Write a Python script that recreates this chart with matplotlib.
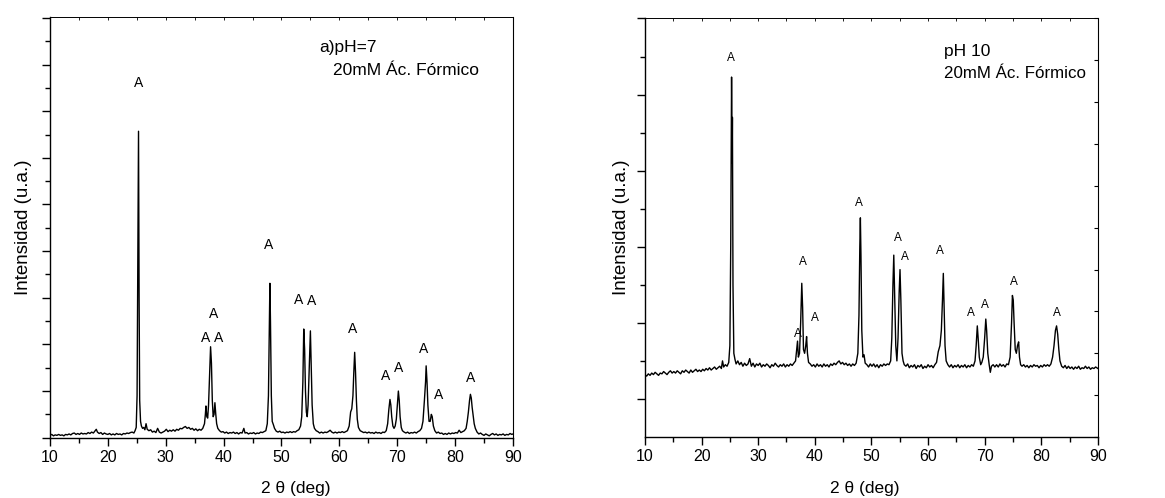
import matplotlib
matplotlib.use('Agg')
import matplotlib.pyplot as plt
from matplotlib.ticker import MultipleLocator, FixedLocator, NullFormatter

plt.rcParams['font.family'] = ['Liberation Sans', 'DejaVu Sans']

# panel a) pH 7 -- trace (2theta, intensity in tick units)
two_theta_a = [
    10.0, 10.3, 10.6, 10.9, 11.2, 11.5, 11.8, 12.1, 12.4, 12.7, 13.0, 13.3, 13.6, 13.9, 14.2, 14.5,
    14.8, 15.1, 15.4, 15.7, 16.0, 16.3, 16.6, 16.9, 17.2, 17.5, 17.8, 18.0, 18.2, 18.5, 18.8, 19.1,
    19.4, 19.7, 20.0, 20.3, 20.6, 20.9, 21.2, 21.5, 21.8, 22.1, 22.4, 22.7, 23.0, 23.3, 23.6, 23.9,
    24.2, 24.5, 24.7, 24.9, 25.05, 25.2, 25.3, 25.4, 25.5, 25.65, 25.8, 26.0, 26.2, 26.4, 26.6, 26.8,
    27.1, 27.4, 27.7, 28.0, 28.3, 28.6, 28.9, 29.2, 29.5, 29.8, 30.1, 30.4, 30.7, 31.0, 31.3, 31.6,
    31.9, 32.2, 32.5, 32.8, 33.1, 33.4, 33.7, 34.0, 34.3, 34.6, 34.9, 35.2, 35.5, 35.8, 36.1, 36.4,
    36.7, 36.85, 36.95, 37.1, 37.25, 37.4, 37.6, 37.75, 37.9, 38.05, 38.2, 38.35, 38.5, 38.65, 38.8, 39.0,
    39.3, 39.6, 39.9, 40.2, 40.5, 40.8, 41.1, 41.4, 41.7, 42.0, 42.3, 42.6, 42.9, 43.2, 43.5, 43.7,
    44.0, 44.3, 44.6, 44.9, 45.2, 45.5, 45.8, 46.1, 46.4, 46.7, 47.0, 47.3, 47.55, 47.75, 47.9, 48.0,
    48.1, 48.25, 48.4, 48.6, 48.8, 49.1, 49.4, 49.7, 50.0, 50.3, 50.6, 50.9, 51.2, 51.5, 51.8, 52.1,
    52.4, 52.7, 53.0, 53.3, 53.5, 53.7, 53.85, 54.0, 54.15, 54.3, 54.45, 54.6, 54.8, 55.0, 55.15, 55.3,
    55.5, 55.7, 56.0, 56.3, 56.6, 56.9, 57.2, 57.5, 57.8, 58.1, 58.4, 58.7, 59.0, 59.3, 59.6, 59.9,
    60.2, 60.5, 60.8, 61.1, 61.4, 61.7, 61.95, 62.15, 62.35, 62.5, 62.65, 62.8, 62.95, 63.1, 63.3, 63.6,
    63.9, 64.2, 64.5, 64.8, 65.1, 65.4, 65.7, 66.0, 66.3, 66.6, 66.9, 67.2, 67.5, 67.8, 68.1, 68.35,
    68.55, 68.75, 68.9, 69.05, 69.25, 69.45, 69.65, 69.85, 70.05, 70.2, 70.35, 70.5, 70.7, 70.9, 71.2, 71.5,
    71.8, 72.1, 72.4, 72.7, 73.0, 73.3, 73.6, 73.9, 74.2, 74.45, 74.7, 74.9, 75.0, 75.15, 75.3, 75.5,
    75.7, 75.9, 76.05, 76.25, 76.5, 76.8, 77.1, 77.4, 77.7, 78.0, 78.3, 78.6, 78.9, 79.2, 79.5, 79.8,
    80.1, 80.4, 80.7, 81.0, 81.3, 81.6, 81.9, 82.1, 82.3, 82.5, 82.65, 82.8, 82.95, 83.1, 83.3, 83.5,
    83.8, 84.1, 84.4, 84.7, 85.0, 85.3, 85.6, 85.9, 86.2, 86.5, 86.8, 87.1, 87.4, 87.7, 88.0, 88.3,
    88.6, 88.9, 89.2, 89.5, 89.8, 90.0,
]
intens_a = [
    0.05, 0.07, 0.04, 0.06, 0.05, 0.07, 0.05, 0.06, 0.04, 0.07, 0.06, 0.08, 0.06, 0.09, 0.10, 0.07,
    0.09, 0.07, 0.10, 0.08, 0.09, 0.08, 0.11, 0.09, 0.12, 0.10, 0.15, 0.18, 0.12, 0.09, 0.11, 0.07,
    0.10, 0.08, 0.07, 0.09, 0.06, 0.08, 0.06, 0.09, 0.07, 0.08, 0.06, 0.09, 0.08, 0.10, 0.09, 0.11,
    0.12, 0.10, 0.15, 0.22, 0.90, 4.50, 6.57, 3.00, 0.80, 0.35, 0.25, 0.20, 0.22, 0.17, 0.30, 0.18,
    0.15, 0.17, 0.12, 0.14, 0.11, 0.20, 0.12, 0.10, 0.12, 0.14, 0.18, 0.13, 0.16, 0.14, 0.17, 0.14,
    0.18, 0.16, 0.20, 0.19, 0.22, 0.24, 0.20, 0.22, 0.18, 0.20, 0.16, 0.19, 0.15, 0.18, 0.16, 0.20,
    0.30, 0.50, 0.68, 0.45, 0.42, 0.70, 1.40, 1.95, 1.60, 0.80, 0.45, 0.50, 0.75, 0.50, 0.30, 0.20,
    0.15, 0.12, 0.13, 0.10, 0.12, 0.09, 0.11, 0.10, 0.12, 0.09, 0.11, 0.08, 0.11, 0.10, 0.20, 0.10,
    0.11, 0.08, 0.10, 0.09, 0.11, 0.08, 0.10, 0.09, 0.12, 0.11, 0.13, 0.15, 0.30, 0.90, 2.40, 3.31,
    2.50, 0.90, 0.35, 0.28, 0.20, 0.14, 0.12, 0.14, 0.11, 0.12, 0.10, 0.12, 0.11, 0.13, 0.11, 0.13,
    0.12, 0.15, 0.17, 0.25, 0.45, 1.20, 2.33, 1.90, 1.00, 0.55, 0.45, 0.70, 1.50, 2.29, 1.50, 0.70,
    0.30, 0.20, 0.15, 0.13, 0.10, 0.12, 0.10, 0.12, 0.11, 0.13, 0.16, 0.12, 0.10, 0.12, 0.10, 0.12,
    0.11, 0.13, 0.11, 0.13, 0.15, 0.25, 0.55, 0.62, 0.90, 1.40, 1.83, 1.40, 0.80, 0.40, 0.22, 0.15,
    0.13, 0.11, 0.12, 0.10, 0.12, 0.10, 0.11, 0.09, 0.12, 0.10, 0.11, 0.09, 0.12, 0.11, 0.15, 0.30,
    0.60, 0.82, 0.70, 0.45, 0.25, 0.20, 0.25, 0.40, 0.75, 1.00, 0.80, 0.45, 0.22, 0.15, 0.12, 0.10,
    0.12, 0.09, 0.11, 0.10, 0.12, 0.10, 0.13, 0.15, 0.20, 0.35, 0.80, 1.20, 1.54, 1.20, 0.70, 0.35,
    0.35, 0.50, 0.45, 0.25, 0.15, 0.10, 0.12, 0.09, 0.10, 0.07, 0.09, 0.07, 0.10, 0.08, 0.10, 0.09,
    0.11, 0.10, 0.16, 0.11, 0.13, 0.15, 0.20, 0.35, 0.55, 0.80, 0.93, 0.85, 0.65, 0.50, 0.30, 0.20,
    0.12, 0.08, 0.10, 0.07, 0.05, 0.08, 0.06, 0.04, 0.07, 0.09, 0.06, 0.08, 0.05, 0.07, 0.06, 0.08,
    0.05, 0.07, 0.06, 0.09, 0.07, 0.08,
]
# anatase "A" labels for panel a)
label_x_a = [25.31, 36.94, 38.2, 39.06, 47.76, 52.88, 55.18, 62.37, 67.96, 70.32, 74.58, 77.22, 82.69]
label_y_a = [7.61, 2.13, 2.65, 2.13, 4.14, 2.95, 2.93, 2.32, 1.32, 1.49, 1.91, 0.91, 1.27]

# panel b) pH 10
two_theta_b = [
    10.0, 10.3, 10.6, 10.9, 11.2, 11.5, 11.8, 12.1, 12.4, 12.7, 13.0, 13.3, 13.6, 13.9, 14.2, 14.5,
    14.8, 15.1, 15.4, 15.7, 16.0, 16.3, 16.6, 16.9, 17.2, 17.5, 17.8, 18.1, 18.4, 18.7, 19.0, 19.3,
    19.6, 19.9, 20.2, 20.5, 20.8, 21.1, 21.4, 21.7, 22.0, 22.3, 22.6, 22.9, 23.2, 23.5, 23.7, 23.9,
    24.2, 24.5, 24.8, 25.0, 25.15, 25.3, 25.4, 25.45, 25.55, 25.7, 25.9, 26.1, 26.4, 26.7, 27.0, 27.3,
    27.6, 27.9, 28.2, 28.5, 28.8, 29.1, 29.4, 29.7, 30.0, 30.3, 30.6, 30.9, 31.2, 31.5, 31.8, 32.1,
    32.4, 32.7, 33.0, 33.3, 33.6, 33.9, 34.2, 34.5, 34.8, 35.1, 35.4, 35.7, 36.0, 36.3, 36.6, 36.8,
    36.95, 37.1, 37.3, 37.5, 37.7, 37.85, 38.0, 38.2, 38.4, 38.55, 38.7, 38.9, 39.2, 39.5, 39.8, 40.1,
    40.4, 40.7, 41.0, 41.3, 41.6, 41.9, 42.2, 42.5, 42.8, 43.1, 43.4, 43.7, 44.0, 44.3, 44.6, 44.9,
    45.2, 45.5, 45.8, 46.1, 46.4, 46.7, 47.0, 47.3, 47.6, 47.8, 47.95, 48.05, 48.15, 48.3, 48.5, 48.7,
    48.9, 49.2, 49.5, 49.8, 50.1, 50.4, 50.7, 51.0, 51.3, 51.6, 51.9, 52.2, 52.5, 52.8, 53.1, 53.4,
    53.6, 53.8, 53.95, 54.1, 54.3, 54.5, 54.7, 54.9, 55.05, 55.2, 55.4, 55.6, 55.8, 56.1, 56.4, 56.7,
    57.0, 57.3, 57.6, 57.9, 58.2, 58.5, 58.8, 59.1, 59.4, 59.7, 60.0, 60.3, 60.6, 60.9, 61.2, 61.5,
    61.8, 62.1, 62.35, 62.55, 62.7, 62.85, 63.0, 63.2, 63.5, 63.8, 64.1, 64.4, 64.7, 65.0, 65.3, 65.6,
    65.9, 66.2, 66.5, 66.8, 67.1, 67.4, 67.7, 68.0, 68.3, 68.5, 68.7, 68.85, 69.05, 69.3, 69.5, 69.75,
    70.0, 70.2, 70.35, 70.55, 70.8, 71.0, 71.2, 71.5, 71.8, 72.1, 72.4, 72.7, 73.0, 73.3, 73.6, 73.9,
    74.2, 74.5, 74.75, 74.9, 75.05, 75.2, 75.4, 75.6, 75.8, 76.0, 76.15, 76.35, 76.6, 76.9, 77.2, 77.5,
    77.8, 78.1, 78.4, 78.7, 79.0, 79.3, 79.6, 79.9, 80.2, 80.5, 80.8, 81.1, 81.4, 81.7, 82.0, 82.25,
    82.5, 82.7, 82.9, 83.1, 83.3, 83.6, 83.9, 84.2, 84.5, 84.8, 85.1, 85.4, 85.7, 86.0, 86.3, 86.6,
    86.9, 87.2, 87.5, 87.8, 88.1, 88.4, 88.7, 89.0, 89.3, 89.6, 90.0,
]
intens_b = [
    0.82, 0.80, 0.83, 0.81, 0.84, 0.82, 0.85, 0.83, 0.81, 0.84, 0.83, 0.86, 0.84, 0.82, 0.85, 0.87,
    0.84, 0.86, 0.84, 0.87, 0.85, 0.83, 0.87, 0.85, 0.88, 0.86, 0.84, 0.88, 0.85, 0.87, 0.89, 0.86,
    0.88, 0.86, 0.89, 0.87, 0.90, 0.88, 0.91, 0.88, 0.90, 0.92, 0.89, 0.91, 0.93, 0.90, 1.00, 0.92,
    0.95, 0.93, 0.98, 1.20, 2.50, 4.73, 3.60, 4.20, 2.00, 1.10, 1.02, 0.96, 1.00, 0.95, 0.98, 0.93,
    0.97, 0.94, 0.96, 1.03, 0.93, 0.97, 0.92, 0.96, 0.94, 0.97, 0.92, 0.95, 0.93, 0.96, 0.94, 0.91,
    0.95, 0.93, 0.97, 0.94, 0.92, 0.95, 0.93, 0.96, 0.92, 0.95, 0.93, 0.96, 0.94, 0.97, 1.00, 1.15,
    1.26, 1.05, 1.10, 1.50, 2.02, 1.70, 1.15, 1.10, 1.20, 1.32, 1.10, 0.98, 0.96, 0.93, 0.95, 0.92,
    0.96, 0.93, 0.95, 0.92, 0.96, 0.93, 0.95, 0.92, 0.96, 0.94, 0.97, 0.95, 0.98, 1.00, 0.96, 0.98,
    0.95, 0.97, 0.94, 0.96, 0.93, 0.96, 0.94, 0.97, 1.10, 1.60, 2.50, 2.88, 2.40, 1.40, 1.05, 1.08,
    0.97, 0.95, 0.92, 0.96, 0.93, 0.96, 0.92, 0.95, 0.91, 0.95, 0.93, 0.96, 0.94, 0.96, 0.95, 1.00,
    1.30, 2.00, 2.39, 1.90, 1.20, 1.00, 1.30, 1.90, 2.20, 1.80, 1.10, 1.00, 0.95, 0.93, 0.96, 0.91,
    0.94, 0.92, 0.95, 0.90, 0.94, 0.92, 0.95, 0.90, 0.93, 0.91, 0.95, 0.92, 0.94, 0.91, 0.95, 0.98,
    1.12, 1.20, 1.40, 1.80, 2.15, 1.70, 1.20, 1.00, 0.95, 0.92, 0.95, 0.91, 0.94, 0.92, 0.95, 0.91,
    0.94, 0.92, 0.95, 0.91, 0.94, 0.92, 0.95, 0.93, 1.00, 1.20, 1.46, 1.30, 1.05, 0.95, 0.98, 1.05,
    1.30, 1.55, 1.40, 1.10, 0.95, 0.85, 0.93, 0.95, 0.92, 0.95, 0.92, 0.96, 0.93, 0.95, 0.92, 0.96,
    0.95, 1.05, 1.50, 1.86, 1.80, 1.50, 1.15, 1.10, 1.20, 1.25, 1.05, 0.95, 0.93, 0.95, 0.92, 0.94,
    0.91, 0.94, 0.92, 0.95, 0.93, 0.94, 0.91, 0.94, 0.92, 0.95, 0.93, 0.95, 0.93, 0.96, 1.05, 1.20,
    1.40, 1.46, 1.35, 1.15, 1.00, 0.93, 0.91, 0.94, 0.90, 0.93, 0.90, 0.92, 0.89, 0.92, 0.90, 0.93,
    0.89, 0.91, 0.90, 0.93, 0.90, 0.92, 0.89, 0.91, 0.90, 0.92, 0.90,
]
label_x_b = [25.2, 36.98, 37.92, 40.1, 47.82, 54.65, 55.95, 62.02, 67.6, 70.03, 75.2, 82.8]
label_y_b = [4.98, 1.36, 2.30, 1.56, 3.08, 2.61, 2.37, 2.45, 1.63, 1.73, 2.04, 1.63]


def style_axes(ax):
    ax.set_xlim(10, 90)
    ax.xaxis.set_major_locator(MultipleLocator(10))
    ax.xaxis.set_minor_locator(MultipleLocator(5))
    ax.tick_params(axis='x', which='major', direction='out', length=6, width=1.0,
                   labelsize=11.5, pad=3, top=False)
    ax.tick_params(axis='x', which='minor', direction='out', length=3.5, width=1.0, top=False)
    ax.tick_params(axis='y', which='major', direction='out', length=6, width=1.0,
                   labelleft=False, right=False)
    ax.tick_params(axis='y', which='minor', direction='out', length=3.5, width=1.0, right=False)
    for sp in ax.spines.values():
        sp.set_linewidth(1.0)
    ax.spines['top'].set_linewidth(0.7)
    ax.spines['right'].set_linewidth(0.8)
    # small inward ticks on top
    sec = ax.secondary_xaxis('top')
    sec.set_xticks(list(range(10, 91, 5)))
    sec.tick_params(direction='in', length=2, width=0.6, labeltop=False)
    sec.spines['top'].set_visible(False)


fig = plt.figure(figsize=(11.65, 4.98), dpi=100)

# ---- panel a)
ax1 = fig.add_axes([0.0429, 0.1211, 0.3974, 0.8448])
ax1.plot(two_theta_a, intens_a, color='black', lw=1.0)
ax1.set_ylim(0, 9.02)
ax1.yaxis.set_major_locator(MultipleLocator(1))
ax1.yaxis.set_minor_locator(MultipleLocator(0.5))
style_axes(ax1)
for x, y in zip(label_x_a, label_y_a):
    ax1.text(x, y, 'A', fontsize=10, ha='center', va='center')
ax1.text(56.6, 8.36, 'a)pH=7', fontsize=12.5, ha='left', va='center')
ax1.text(58.9, 7.87, '20mM Ác. Fórmico', fontsize=12.5, ha='left', va='center')
ax1.set_ylabel('Intensidad (u.a.)', fontsize=13.5, va='center')
ax1.yaxis.set_label_coords(-0.058, 0.5)
ax1.set_xlabel('2 θ (deg)', fontsize=12.5, va='center')
ax1.xaxis.set_label_coords(0.53, -0.12)

# ---- panel b)
ax2 = fig.add_axes([0.5536, 0.1225, 0.3888, 0.8404])
ax2.plot(two_theta_b, intens_b, color='black', lw=1.0)
ax2.set_ylim(0, 5.5)
ax2.yaxis.set_major_locator(FixedLocator([0.5, 1.5, 2.5, 3.5, 4.5, 5.5]))
ax2.yaxis.set_minor_locator(FixedLocator([1, 2, 3, 4, 5]))
style_axes(ax2)
twin = ax2.twinx()
twin.set_ylim(0, 10)
twin.yaxis.set_major_locator(MultipleLocator(1))
twin.yaxis.set_major_formatter(NullFormatter())
twin.tick_params(axis='y', direction='in', length=3, width=0.8)
for sp in twin.spines.values():
    sp.set_visible(False)
for x, y in zip(label_x_b, label_y_b):
    ax2.text(x, y, 'A', fontsize=8.5, ha='center', va='center')
ax2.text(62.8, 5.07, 'pH 10', fontsize=12.5, ha='left', va='center')
ax2.text(62.8, 4.78, '20mM Ác. Fórmico', fontsize=12.2, ha='left', va='center')
ax2.set_ylabel('Intensidad (u.a.)', fontsize=13.5, va='center')
ax2.yaxis.set_label_coords(-0.051, 0.5)
ax2.set_xlabel('2 θ (deg)', fontsize=12.5, va='center')
ax2.xaxis.set_label_coords(0.486, -0.122)

fig.savefig('out.png', dpi=100)
